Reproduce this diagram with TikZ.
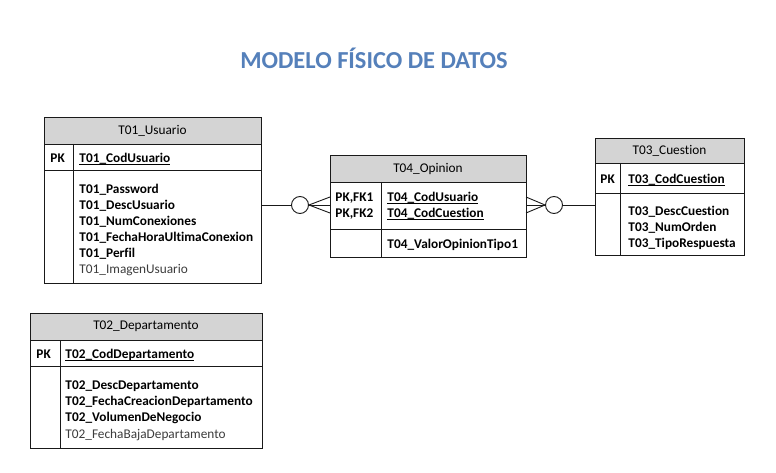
\documentclass[tikz,border=0pt]{standalone}
\usepackage{fontspec}
\setmainfont{Carlito}[Ligatures=NoCommon]
\definecolor{hdrgray}{HTML}{D4D4D4}
\definecolor{titleblue}{HTML}{5580BA}
\definecolor{lightfield}{HTML}{3C3C3C}
\newcommand\keyul[1]{\setbox0\hbox{#1}\rlap{\raisebox{-2.2pt}{\rule{\wd0}{0.8pt}}}\box0}
\begin{document}
\begin{tikzpicture}[x=1pt,y=-1pt,line width=0.9pt,
  box/.style={draw=black!90, inner sep=0pt, anchor=north west, outer sep=0pt},
  hdr/.style={box, fill=hdrgray, font=\fontsize{13.3}{16}\selectfont},
  txt/.style={anchor=base west, inner sep=0pt, font=\fontsize{13.3}{16}\selectfont\bfseries},
  ltxt/.style={anchor=base west, inner sep=0pt, font=\fontsize{13.3}{16}\selectfont, text=lightfield},
  circ/.style={circle, draw=black!90, fill=white, inner sep=0pt, minimum size=17pt},
  conn/.style={draw=black!90}]
\useasboundingbox (0,0) rectangle (776,473);

% Title
\node[font=\fontsize{24.4}{28}\selectfont\bfseries, text=titleblue, inner sep=0pt] (title) at (374,58) {MODELO FÍSICO DE DATOS};

% ---------- T01_Usuario ----------
\node[hdr, minimum width=217pt, minimum height=27pt] (t01h) at (44,117) {T01\_Usuario};
\node[box, minimum width=217pt, minimum height=26pt] (t01k) at (44,144) {};
\node[box, minimum width=217pt, minimum height=113pt] (t01b) at (44,170) {};
\draw[conn] (73,144) coordinate (t01d1) -- (73,283) coordinate (t01d2);
\node[txt] (t01pk) at (50,162.5) {PK};
\node[txt] (t01f0) at (79,162.5) {\keyul{T01\_CodUsuario}};
\node[txt] (t01f1) at (79,193.5) {T01\_Password};
\node[txt] (t01f2) at (79,209.5) {T01\_DescUsuario};
\node[txt] (t01f3) at (79,225.5) {T01\_NumConexiones};
\node[txt] (t01f4) at (79,241.5) {T01\_FechaHoraUltimaConexion};
\node[txt] (t01f5) at (79,257.5) {T01\_Perfil};
\node[ltxt] (t01f6) at (79,273.5) {T01\_ImagenUsuario};

% ---------- T02_Departamento ----------
\node[hdr, minimum width=232pt, minimum height=27pt] (t02h) at (30,313) {T02\_Departamento};
\node[box, minimum width=232pt, minimum height=26pt] (t02k) at (30,340) {};
\node[box, minimum width=232pt, minimum height=82pt] (t02b) at (30,366) {};
\draw[conn] (60,340) coordinate (t02d1) -- (60,448) coordinate (t02d2);
\node[txt] (t02pk) at (36,358.5) {PK};
\node[txt] (t02f0) at (65,358.5) {\keyul{T02\_CodDepartamento}};
\node[txt] (t02f1) at (65,389.5) {T02\_DescDepartamento};
\node[txt] (t02f2) at (65,405.5) {T02\_FechaCreacionDepartamento};
\node[txt] (t02f3) at (65,421.5) {T02\_VolumenDeNegocio};
\node[ltxt] (t02f4) at (65,438) {T02\_FechaBajaDepartamento};

% ---------- T04_Opinion ----------
\node[hdr, minimum width=196pt, minimum height=27pt] (t04h) at (330,155) {T04\_Opinion};
\node[box, minimum width=196pt, minimum height=47pt] (t04k) at (330,182) {};
\node[box, minimum width=196pt, minimum height=28pt] (t04b) at (330,229) {};
\draw[conn] (381,182) coordinate (t04d1) -- (381,257) coordinate (t04d2);
\node[txt] (t04pk1) at (335,201.5) {PK,FK1};
\node[txt] (t04pk2) at (335,217.5) {PK,FK2};
\node[txt] (t04f0) at (387,201.5) {\keyul{T04\_CodUsuario}};
\node[txt] (t04f1) at (387,217.5) {\keyul{T04\_CodCuestion}};
\node[txt] (t04f2) at (387,248) {T04\_ValorOpinionTipo1};

% ---------- T03_Cuestion ----------
\node[hdr, minimum width=149pt, minimum height=25pt] (t03h) at (595,138) {T03\_Cuestion};
\node[box, minimum width=149pt, minimum height=30pt] (t03k) at (595,163) {};
\node[box, minimum width=149pt, minimum height=62pt] (t03b) at (595,193) {};
\draw[conn] (620,163) coordinate (t03d1) -- (620,255) coordinate (t03d2);
\node[txt] (t03pk) at (600,183.5) {PK};
\node[txt] (t03f0) at (628,183.5) {\keyul{T03\_CodCuestion}};
\node[txt] (t03f1) at (628,215.5) {T03\_DescCuestion};
\node[txt] (t03f2) at (628,231.5) {T03\_NumOrden};
\node[txt] (t03f3) at (628,247.5) {T03\_TipoRespuesta};

% ---------- Relationships ----------
\node[circ] (c1) at (300,205) {};
\draw[conn] (t01b.east |- c1) -- (c1.west);
\coordinate (f1a) at (330,197);
\coordinate (f1b) at (330,205);
\coordinate (f1c) at (330,213);
\draw[conn] (f1a) -- (c1.east) -- (f1c);
\draw[conn] (c1.east) -- (f1b);

\node[circ] (c2) at (554,205) {};
\draw[conn] (c2.east) -- (t03b.west |- c2);
\coordinate (f2a) at (526,197);
\coordinate (f2b) at (526,205);
\coordinate (f2c) at (526,213);
\draw[conn] (f2a) -- (c2.west) -- (f2c);
\draw[conn] (c2.west) -- (f2b);
\end{tikzpicture}
\end{document}
